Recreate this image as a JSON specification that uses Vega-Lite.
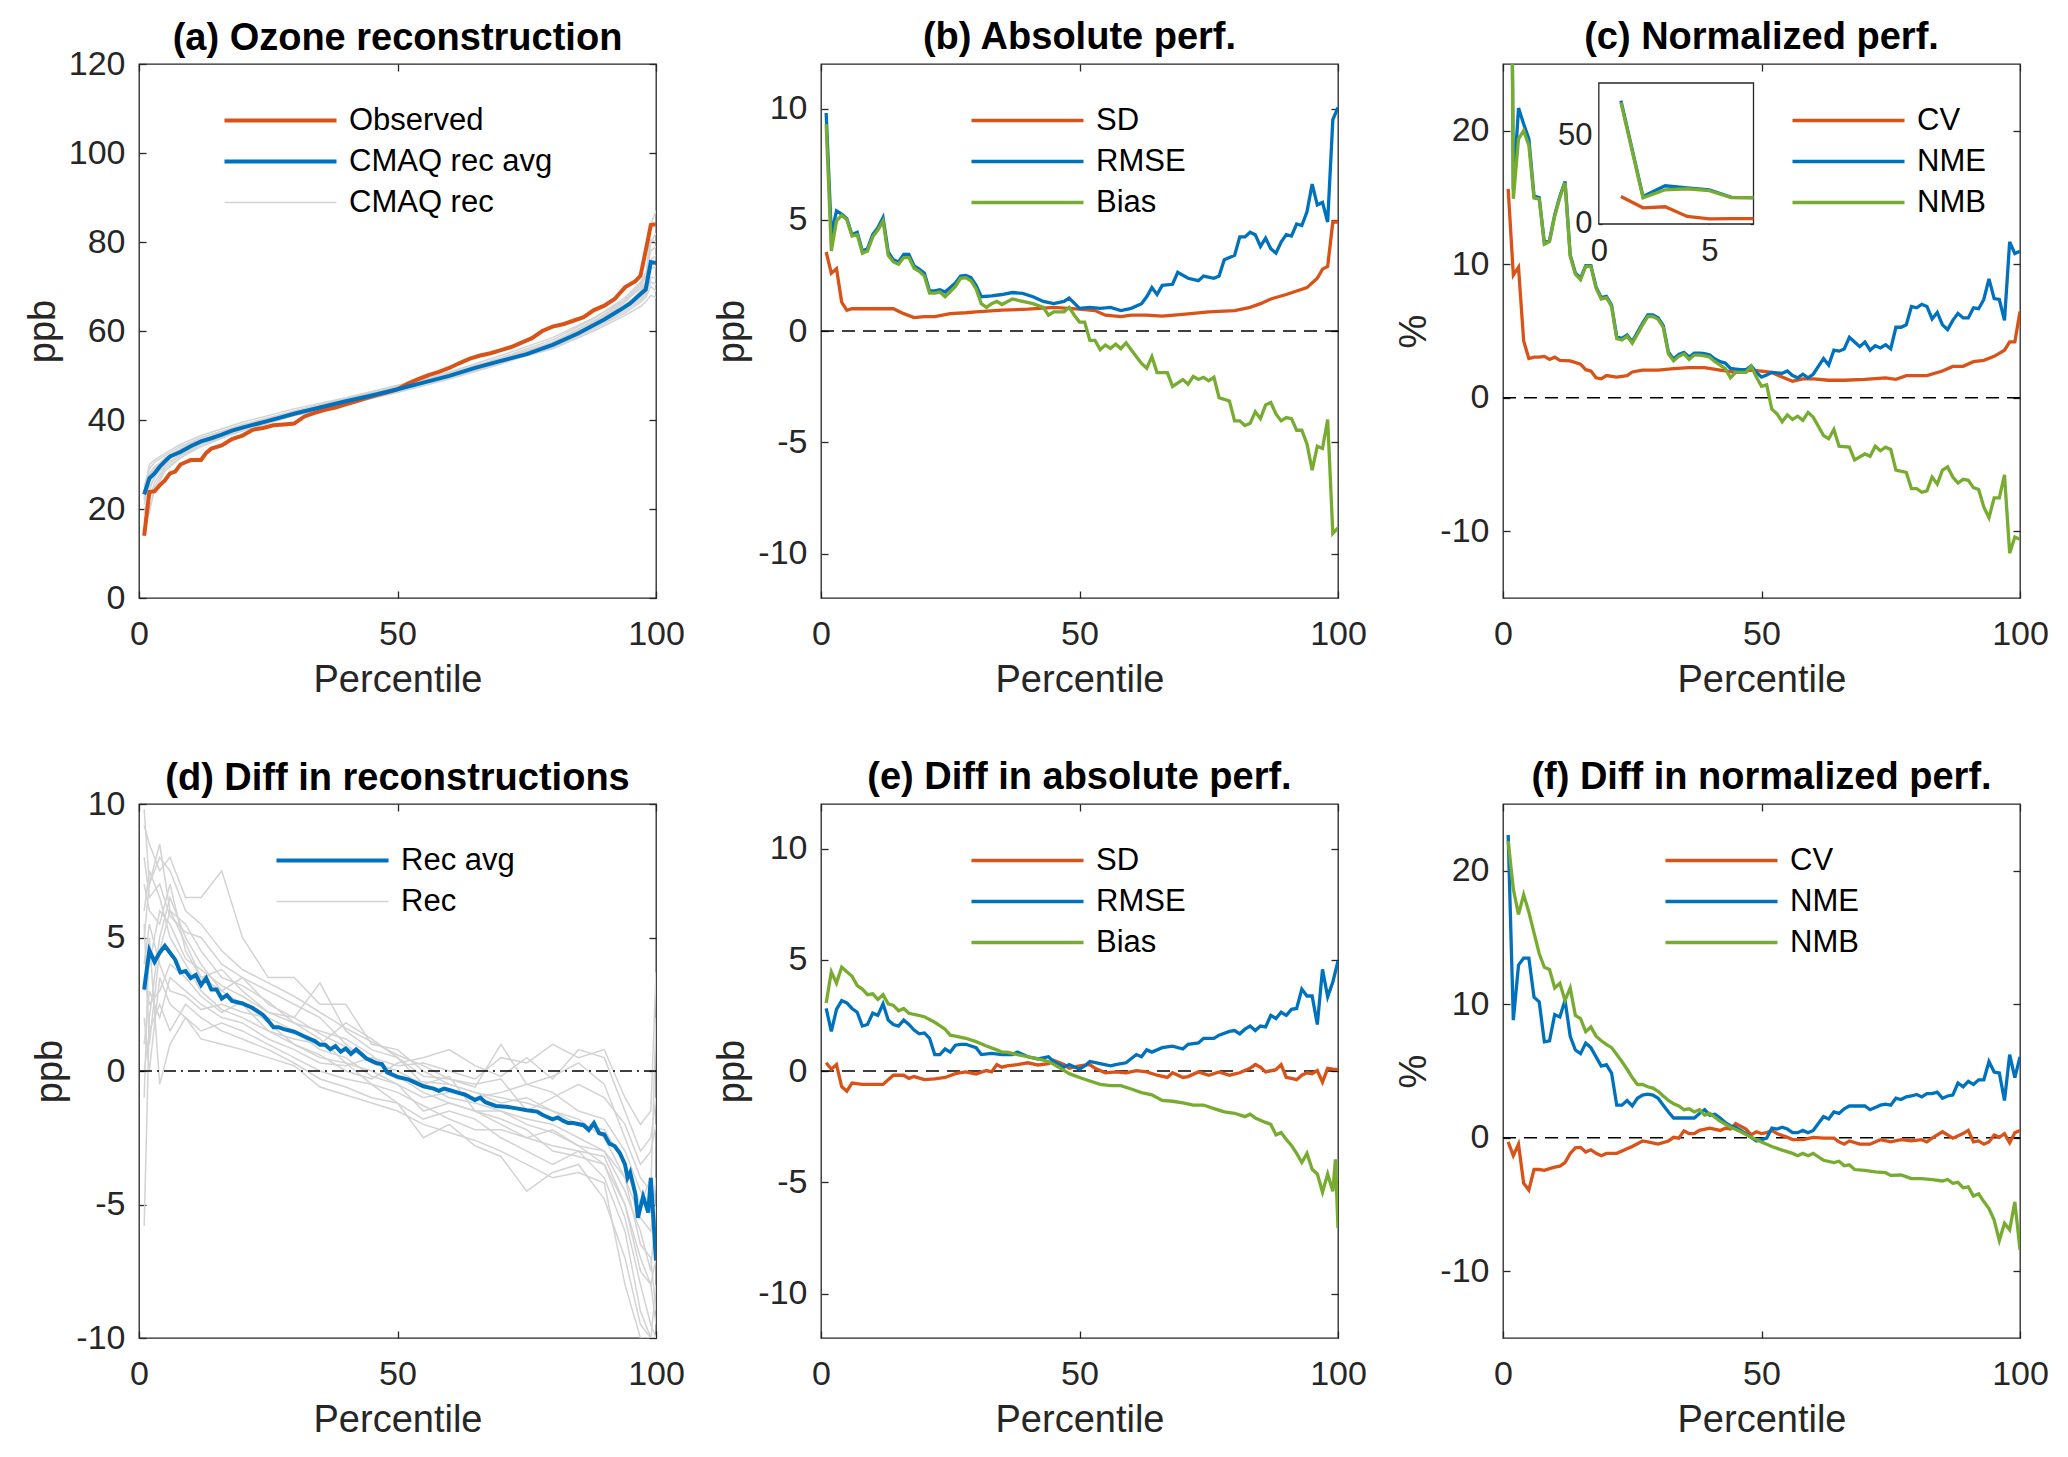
{
"$schema": "https://vega.github.io/schema/vega-lite/v6.json",
"background": "white",
"padding": {"left": 23, "top": 18, "right": 5, "bottom": 5},
"columns": 3,
"spacing": {"row": 206, "column": 165},
"bounds": "flush",
"resolve": {"scale": {"color": "independent"}, "legend": {"color": "independent"}},
"config": {
  "font": "Liberation Sans",
  "view": {"stroke": "#262626", "strokeWidth": 1.3},
  "axis": {"grid": false, "domain": false, "labelFont": "Liberation Sans", "labelFontSize": 34, "labelColor": "#262626", "tickColor": "#262626", "tickWidth": 1.3, "tickSize": -7, "labelFlush": false, "labelOverlap": false, "titleFont": "Liberation Sans", "titleFontSize": 38, "titleFontWeight": "normal", "titleColor": "#262626"},
  "axisX": {"labelPadding": 26.5, "titlePadding": 10},
  "axisY": {"labelPadding": 21, "titlePadding": 6},
  "legend": {"padding": 0, "labelFont": "Liberation Sans", "labelFontSize": 31, "labelColor": "#000000", "labelLimit": 500},
  "title": {"font": "Liberation Sans", "fontSize": 38, "fontWeight": "bold", "color": "#000000", "offset": 6, "anchor": "middle", "frame": "group"}
},
"datasets": {
  "am": [
    {"p":1,"s":"Observed","v":14},{"p":2,"s":"Observed","v":23.8},{"p":3,"s":"Observed","v":24},{"p":4,"s":"Observed","v":25.3},{"p":5,"s":"Observed","v":26.4},{"p":6,"s":"Observed","v":28},{"p":7,"s":"Observed","v":28.4},{"p":8,"s":"Observed","v":30},{"p":9,"s":"Observed","v":30.5},{"p":10,"s":"Observed","v":31},{"p":12,"s":"Observed","v":31},{"p":13,"s":"Observed","v":32.6},{"p":14,"s":"Observed","v":33.6},{"p":16,"s":"Observed","v":34.3},{"p":18,"s":"Observed","v":35.7},{"p":20,"s":"Observed","v":36.5},{"p":22,"s":"Observed","v":37.8},{"p":24,"s":"Observed","v":38.2},{"p":26,"s":"Observed","v":38.8},{"p":28,"s":"Observed","v":39.0},{"p":30,"s":"Observed","v":39.2},{"p":32,"s":"Observed","v":40.8},{"p":34,"s":"Observed","v":41.6},{"p":36,"s":"Observed","v":42.3},{"p":38,"s":"Observed","v":42.8},{"p":40,"s":"Observed","v":43.5},{"p":42,"s":"Observed","v":44.2},{"p":44,"s":"Observed","v":44.9},{"p":46,"s":"Observed","v":45.6},{"p":48,"s":"Observed","v":46.2},{"p":50,"s":"Observed","v":46.9},{"p":52,"s":"Observed","v":48.2},{"p":54,"s":"Observed","v":49.2},{"p":56,"s":"Observed","v":50.1},{"p":58,"s":"Observed","v":50.8},{"p":60,"s":"Observed","v":51.7},{"p":62,"s":"Observed","v":52.8},{"p":64,"s":"Observed","v":53.8},{"p":66,"s":"Observed","v":54.5},{"p":68,"s":"Observed","v":55},{"p":70,"s":"Observed","v":55.7},{"p":72,"s":"Observed","v":56.4},{"p":74,"s":"Observed","v":57.4},{"p":76,"s":"Observed","v":58.4},{"p":78,"s":"Observed","v":60},{"p":80,"s":"Observed","v":61},{"p":82,"s":"Observed","v":61.5},{"p":84,"s":"Observed","v":62.3},{"p":86,"s":"Observed","v":63.1},{"p":88,"s":"Observed","v":64.7},{"p":90,"s":"Observed","v":65.7},{"p":92,"s":"Observed","v":67.2},{"p":94,"s":"Observed","v":69.8},{"p":96,"s":"Observed","v":71.2},{"p":97,"s":"Observed","v":72.4},{"p":98,"s":"Observed","v":78},{"p":99,"s":"Observed","v":83.8},{"p":100,"s":"Observed","v":84},
    {"p":1,"s":"CMAQ rec avg","v":23.3},{"p":2,"s":"CMAQ rec avg","v":26.9},{"p":3,"s":"CMAQ rec avg","v":28},{"p":4,"s":"CMAQ rec avg","v":29.5},{"p":5,"s":"CMAQ rec avg","v":30.7},{"p":6,"s":"CMAQ rec avg","v":31.8},{"p":8,"s":"CMAQ rec avg","v":32.8},{"p":10,"s":"CMAQ rec avg","v":34.1},{"p":12,"s":"CMAQ rec avg","v":35.2},{"p":14,"s":"CMAQ rec avg","v":35.9},{"p":16,"s":"CMAQ rec avg","v":36.7},{"p":18,"s":"CMAQ rec avg","v":37.6},{"p":20,"s":"CMAQ rec avg","v":38.3},{"p":25,"s":"CMAQ rec avg","v":39.8},{"p":30,"s":"CMAQ rec avg","v":41.4},{"p":35,"s":"CMAQ rec avg","v":42.8},{"p":40,"s":"CMAQ rec avg","v":44.2},{"p":45,"s":"CMAQ rec avg","v":45.5},{"p":50,"s":"CMAQ rec avg","v":46.9},{"p":55,"s":"CMAQ rec avg","v":48.4},{"p":60,"s":"CMAQ rec avg","v":49.9},{"p":65,"s":"CMAQ rec avg","v":51.7},{"p":70,"s":"CMAQ rec avg","v":53.3},{"p":75,"s":"CMAQ rec avg","v":54.8},{"p":80,"s":"CMAQ rec avg","v":56.9},{"p":85,"s":"CMAQ rec avg","v":59.5},{"p":90,"s":"CMAQ rec avg","v":62.6},{"p":93,"s":"CMAQ rec avg","v":64.7},{"p":95,"s":"CMAQ rec avg","v":66.2},{"p":97,"s":"CMAQ rec avg","v":68.3},{"p":98,"s":"CMAQ rec avg","v":69.3},{"p":99,"s":"CMAQ rec avg","v":75.5},{"p":100,"s":"CMAQ rec avg","v":75.3}
  ],
  "ar": [
    {"p":1,"g1":24,"g2":20,"g3":18,"g4":22,"g5":23,"g6":14,"g7":25,"g8":21,"g9":19,"g10":22.5},
    {"p":2,"g1":30,"g2":22,"g3":19,"g4":27.5,"g5":25,"g6":20,"g7":29,"g8":26,"g9":24,"g10":28},
    {"p":3,"g1":31,"g2":26,"g3":25,"g4":29,"g5":27,"g6":24,"g7":30.5,"g8":28.5,"g9":27.5,"g10":29.5},
    {"p":5,"g1":32.5,"g2":29.5,"g3":29,"g4":31.5,"g5":30,"g6":28.5,"g7":32,"g8":31,"g9":30.5,"g10":31.2},
    {"p":8,"g1":34.5,"g2":32,"g3":31.5,"g4":33.5,"g5":32.2,"g6":31.5,"g7":34,"g8":33,"g9":33,"g10":33.2},
    {"p":12,"g1":36.5,"g2":34.5,"g3":34,"g4":36,"g5":34.8,"g6":34.5,"g7":36,"g8":35.5,"g9":35.3,"g10":35.5},
    {"p":20,"g1":39.5,"g2":37.5,"g3":37.8,"g4":39,"g5":38,"g6":38,"g7":38.8,"g8":38.5,"g9":38.6,"g10":38.2},
    {"p":30,"g1":42.5,"g2":41,"g3":41.2,"g4":42,"g5":41.5,"g6":41.5,"g7":41.8,"g8":41.6,"g9":42,"g10":41},
    {"p":40,"g1":45,"g2":43.6,"g3":44.2,"g4":44.8,"g5":44.3,"g6":44.5,"g7":44.2,"g8":44,"g9":44.8,"g10":43.5},
    {"p":50,"g1":47.8,"g2":46.5,"g3":47.2,"g4":47.5,"g5":47.2,"g6":47.5,"g7":46.8,"g8":46.8,"g9":47.6,"g10":46.2},
    {"p":60,"g1":50.5,"g2":49.8,"g3":50.3,"g4":50.2,"g5":50.5,"g6":50.8,"g7":49.5,"g8":49.6,"g9":50.4,"g10":49.2},
    {"p":70,"g1":53.5,"g2":53.5,"g3":53.8,"g4":53,"g5":54,"g6":54.5,"g7":52.8,"g8":53,"g9":53.6,"g10":52.6},
    {"p":80,"g1":56.5,"g2":57.5,"g3":57.5,"g4":56.2,"g5":58,"g6":58.5,"g7":56,"g8":57,"g9":57.2,"g10":56.5},
    {"p":88,"g1":60.5,"g2":62,"g3":62.3,"g4":60.5,"g5":62.8,"g6":63,"g7":60,"g8":61.5,"g9":61.8,"g10":61},
    {"p":94,"g1":64,"g2":66.5,"g3":66.8,"g4":64.5,"g5":67.5,"g6":67,"g7":63.5,"g8":65.5,"g9":66,"g10":65},
    {"p":97,"g1":66.5,"g2":70,"g3":69.5,"g4":67,"g5":71,"g6":70.5,"g7":65.5,"g8":69,"g9":68.5,"g10":67.5},
    {"p":98,"g1":67.5,"g2":72,"g3":71,"g4":68,"g5":73,"g6":72.5,"g7":66.5,"g8":70.5,"g9":70,"g10":68.5},
    {"p":99,"g1":70,"g2":80,"g3":84,"g4":72,"g5":78,"g6":76,"g7":68,"g8":74,"g9":80.5,"g10":71},
    {"p":100,"g1":69,"g2":82,"g3":87,"g4":72,"g5":79,"g6":77,"g7":67.5,"g8":74.5,"g9":80,"g10":70.5}
  ],
  "b": [
    {"p":1,"s":"SD","v":3.55},{"p":2,"s":"SD","v":2.6},{"p":3,"s":"SD","v":2.8},{"p":4,"s":"SD","v":1.3},{"p":5,"s":"SD","v":0.93},{"p":6,"s":"SD","v":1.0},{"p":8,"s":"SD","v":1.0},{"p":10,"s":"SD","v":1.0},{"p":12,"s":"SD","v":1.0},{"p":14,"s":"SD","v":1.0},{"p":16,"s":"SD","v":0.78},{"p":18,"s":"SD","v":0.6},{"p":20,"s":"SD","v":0.65},{"p":22,"s":"SD","v":0.65},{"p":25,"s":"SD","v":0.78},{"p":28,"s":"SD","v":0.82},{"p":30,"s":"SD","v":0.86},{"p":35,"s":"SD","v":0.94},{"p":40,"s":"SD","v":0.98},{"p":45,"s":"SD","v":1.06},{"p":50,"s":"SD","v":0.98},{"p":53,"s":"SD","v":0.92},{"p":55,"s":"SD","v":0.71},{"p":58,"s":"SD","v":0.65},{"p":60,"s":"SD","v":0.71},{"p":63,"s":"SD","v":0.71},{"p":66,"s":"SD","v":0.67},{"p":70,"s":"SD","v":0.75},{"p":75,"s":"SD","v":0.86},{"p":80,"s":"SD","v":0.92},{"p":83,"s":"SD","v":1.06},{"p":85,"s":"SD","v":1.23},{"p":87,"s":"SD","v":1.44},{"p":90,"s":"SD","v":1.64},{"p":92,"s":"SD","v":1.8},{"p":94,"s":"SD","v":1.95},{"p":96,"s":"SD","v":2.37},{"p":97,"s":"SD","v":2.78},{"p":98,"s":"SD","v":2.9},{"p":99,"s":"SD","v":4.9},{"p":100,"s":"SD","v":4.9},
    {"p":1,"s":"RMSE","v":9.8},{"p":2,"s":"RMSE","v":4.33},{"p":3,"s":"RMSE","v":5.4},{"p":4,"s":"RMSE","v":5.26},{"p":5,"s":"RMSE","v":5.05},{"p":6,"s":"RMSE","v":4.33},{"p":7,"s":"RMSE","v":4.44},{"p":8,"s":"RMSE","v":3.6},{"p":9,"s":"RMSE","v":3.7},{"p":10,"s":"RMSE","v":4.33},{"p":11,"s":"RMSE","v":4.64},{"p":12,"s":"RMSE","v":5.1},{"p":13,"s":"RMSE","v":3.55},{"p":14,"s":"RMSE","v":3.2},{"p":15,"s":"RMSE","v":3.1},{"p":16,"s":"RMSE","v":3.44},{"p":17,"s":"RMSE","v":3.44},{"p":18,"s":"RMSE","v":2.93},{"p":19,"s":"RMSE","v":2.78},{"p":20,"s":"RMSE","v":2.6},{"p":21,"s":"RMSE","v":1.8},{"p":22,"s":"RMSE","v":1.8},{"p":23,"s":"RMSE","v":1.85},{"p":24,"s":"RMSE","v":1.75},{"p":26,"s":"RMSE","v":2.16},{"p":27,"s":"RMSE","v":2.47},{"p":28,"s":"RMSE","v":2.5},{"p":29,"s":"RMSE","v":2.4},{"p":30,"s":"RMSE","v":2.05},{"p":31,"s":"RMSE","v":1.54},{"p":33,"s":"RMSE","v":1.58},{"p":35,"s":"RMSE","v":1.64},{"p":37,"s":"RMSE","v":1.73},{"p":39,"s":"RMSE","v":1.69},{"p":41,"s":"RMSE","v":1.54},{"p":43,"s":"RMSE","v":1.33},{"p":45,"s":"RMSE","v":1.23},{"p":47,"s":"RMSE","v":1.33},{"p":48,"s":"RMSE","v":1.48},{"p":50,"s":"RMSE","v":1.02},{"p":52,"s":"RMSE","v":1.06},{"p":54,"s":"RMSE","v":1.02},{"p":56,"s":"RMSE","v":1.06},{"p":58,"s":"RMSE","v":0.92},{"p":60,"s":"RMSE","v":1.02},{"p":62,"s":"RMSE","v":1.23},{"p":63,"s":"RMSE","v":1.54},{"p":64,"s":"RMSE","v":1.95},{"p":65,"s":"RMSE","v":1.64},{"p":66,"s":"RMSE","v":2.05},{"p":68,"s":"RMSE","v":2.1},{"p":69,"s":"RMSE","v":2.64},{"p":71,"s":"RMSE","v":2.37},{"p":73,"s":"RMSE","v":2.26},{"p":74,"s":"RMSE","v":2.47},{"p":76,"s":"RMSE","v":2.37},{"p":77,"s":"RMSE","v":2.47},{"p":78,"s":"RMSE","v":3.2},{"p":80,"s":"RMSE","v":3.4},{"p":81,"s":"RMSE","v":4.23},{"p":82,"s":"RMSE","v":4.23},{"p":83,"s":"RMSE","v":4.44},{"p":84,"s":"RMSE","v":4.33},{"p":85,"s":"RMSE","v":3.8},{"p":86,"s":"RMSE","v":4.17},{"p":87,"s":"RMSE","v":3.7},{"p":88,"s":"RMSE","v":3.5},{"p":89,"s":"RMSE","v":4.0},{"p":90,"s":"RMSE","v":4.33},{"p":91,"s":"RMSE","v":4.27},{"p":92,"s":"RMSE","v":4.81},{"p":93,"s":"RMSE","v":4.74},{"p":94,"s":"RMSE","v":5.36},{"p":95,"s":"RMSE","v":6.6},{"p":96,"s":"RMSE","v":5.67},{"p":97,"s":"RMSE","v":5.78},{"p":98,"s":"RMSE","v":4.9},{"p":99,"s":"RMSE","v":9.5},{"p":100,"s":"RMSE","v":10.05},
    {"p":1,"s":"Bias","v":9.3},{"p":2,"s":"Bias","v":3.6},{"p":3,"s":"Bias","v":4.95},{"p":4,"s":"Bias","v":5.2},{"p":5,"s":"Bias","v":5.0},{"p":6,"s":"Bias","v":4.27},{"p":7,"s":"Bias","v":4.33},{"p":8,"s":"Bias","v":3.5},{"p":9,"s":"Bias","v":3.6},{"p":10,"s":"Bias","v":4.23},{"p":11,"s":"Bias","v":4.54},{"p":12,"s":"Bias","v":4.95},{"p":13,"s":"Bias","v":3.4},{"p":14,"s":"Bias","v":3.1},{"p":15,"s":"Bias","v":3.0},{"p":16,"s":"Bias","v":3.3},{"p":17,"s":"Bias","v":3.3},{"p":18,"s":"Bias","v":2.82},{"p":19,"s":"Bias","v":2.68},{"p":20,"s":"Bias","v":2.47},{"p":21,"s":"Bias","v":1.7},{"p":22,"s":"Bias","v":1.7},{"p":23,"s":"Bias","v":1.75},{"p":24,"s":"Bias","v":1.54},{"p":26,"s":"Bias","v":2.0},{"p":27,"s":"Bias","v":2.37},{"p":28,"s":"Bias","v":2.4},{"p":29,"s":"Bias","v":2.26},{"p":30,"s":"Bias","v":1.89},{"p":31,"s":"Bias","v":1.23},{"p":32,"s":"Bias","v":1.06},{"p":33,"s":"Bias","v":1.23},{"p":34,"s":"Bias","v":1.33},{"p":35,"s":"Bias","v":1.19},{"p":37,"s":"Bias","v":1.44},{"p":39,"s":"Bias","v":1.33},{"p":41,"s":"Bias","v":1.23},{"p":43,"s":"Bias","v":1.06},{"p":44,"s":"Bias","v":0.71},{"p":45,"s":"Bias","v":0.86},{"p":47,"s":"Bias","v":0.86},{"p":48,"s":"Bias","v":1.06},{"p":49,"s":"Bias","v":0.71},{"p":50,"s":"Bias","v":0.4},{"p":51,"s":"Bias","v":0.4},{"p":52,"s":"Bias","v":-0.42},{"p":53,"s":"Bias","v":-0.42},{"p":54,"s":"Bias","v":-0.84},{"p":55,"s":"Bias","v":-0.63},{"p":56,"s":"Bias","v":-0.78},{"p":57,"s":"Bias","v":-0.59},{"p":58,"s":"Bias","v":-0.79},{"p":59,"s":"Bias","v":-0.53},{"p":60,"s":"Bias","v":-0.84},{"p":62,"s":"Bias","v":-1.46},{"p":63,"s":"Bias","v":-1.67},{"p":64,"s":"Bias","v":-1.15},{"p":65,"s":"Bias","v":-1.87},{"p":67,"s":"Bias","v":-1.87},{"p":68,"s":"Bias","v":-2.49},{"p":70,"s":"Bias","v":-2.18},{"p":71,"s":"Bias","v":-2.39},{"p":72,"s":"Bias","v":-2.04},{"p":73,"s":"Bias","v":-2.18},{"p":74,"s":"Bias","v":-2.08},{"p":75,"s":"Bias","v":-2.24},{"p":76,"s":"Bias","v":-2.08},{"p":77,"s":"Bias","v":-3.0},{"p":78,"s":"Bias","v":-3.07},{"p":79,"s":"Bias","v":-3.15},{"p":80,"s":"Bias","v":-4.04},{"p":81,"s":"Bias","v":-4.04},{"p":82,"s":"Bias","v":-4.25},{"p":83,"s":"Bias","v":-4.15},{"p":84,"s":"Bias","v":-3.63},{"p":85,"s":"Bias","v":-3.94},{"p":86,"s":"Bias","v":-3.32},{"p":87,"s":"Bias","v":-3.21},{"p":88,"s":"Bias","v":-3.73},{"p":89,"s":"Bias","v":-4.04},{"p":90,"s":"Bias","v":-3.89},{"p":91,"s":"Bias","v":-3.94},{"p":92,"s":"Bias","v":-4.46},{"p":93,"s":"Bias","v":-4.46},{"p":94,"s":"Bias","v":-5.08},{"p":95,"s":"Bias","v":-6.25},{"p":96,"s":"Bias","v":-5.18},{"p":97,"s":"Bias","v":-5.28},{"p":98,"s":"Bias","v":-3.98},{"p":99,"s":"Bias","v":-9.1},{"p":100,"s":"Bias","v":-8.85}
  ],
  "c": [
    {"p":1,"s":"CV","v":15.65},{"p":2,"s":"CV","v":9.19},{"p":3,"s":"CV","v":9.78},{"p":4,"s":"CV","v":4.25},{"p":5,"s":"CV","v":2.94},{"p":6,"s":"CV","v":3.04},{"p":7,"s":"CV","v":3.05},{"p":8,"s":"CV","v":3.1},{"p":9,"s":"CV","v":2.87},{"p":10,"s":"CV","v":3.04},{"p":11,"s":"CV","v":2.8},{"p":13,"s":"CV","v":2.76},{"p":15,"s":"CV","v":2.52},{"p":16,"s":"CV","v":2.1},{"p":17,"s":"CV","v":2.0},{"p":18,"s":"CV","v":1.49},{"p":19,"s":"CV","v":1.42},{"p":20,"s":"CV","v":1.66},{"p":22,"s":"CV","v":1.55},{"p":24,"s":"CV","v":1.66},{"p":25,"s":"CV","v":1.93},{"p":27,"s":"CV","v":2.07},{"p":30,"s":"CV","v":2.07},{"p":33,"s":"CV","v":2.18},{"p":36,"s":"CV","v":2.25},{"p":39,"s":"CV","v":2.25},{"p":42,"s":"CV","v":2.07},{"p":45,"s":"CV","v":1.9},{"p":48,"s":"CV","v":2.07},{"p":50,"s":"CV","v":2.0},{"p":52,"s":"CV","v":1.9},{"p":54,"s":"CV","v":1.55},{"p":56,"s":"CV","v":1.24},{"p":58,"s":"CV","v":1.42},{"p":60,"s":"CV","v":1.42},{"p":63,"s":"CV","v":1.31},{"p":66,"s":"CV","v":1.31},{"p":70,"s":"CV","v":1.38},{"p":74,"s":"CV","v":1.49},{"p":76,"s":"CV","v":1.38},{"p":78,"s":"CV","v":1.66},{"p":82,"s":"CV","v":1.66},{"p":85,"s":"CV","v":2.0},{"p":87,"s":"CV","v":2.35},{"p":89,"s":"CV","v":2.35},{"p":91,"s":"CV","v":2.7},{"p":93,"s":"CV","v":2.8},{"p":95,"s":"CV","v":3.1},{"p":97,"s":"CV","v":3.56},{"p":98,"s":"CV","v":4.18},{"p":99,"s":"CV","v":4.18},{"p":100,"s":"CV","v":6.46},
    {"p":1,"s":"NME","v":70},{"p":2,"s":"NME","v":15.6},{"p":3,"s":"NME","v":21.7},{"p":4,"s":"NME","v":20.5},{"p":5,"s":"NME","v":19.4},{"p":6,"s":"NME","v":15.1},{"p":7,"s":"NME","v":15.0},{"p":8,"s":"NME","v":11.6},{"p":9,"s":"NME","v":11.8},{"p":10,"s":"NME","v":13.7},{"p":11,"s":"NME","v":15.1},{"p":12,"s":"NME","v":16.2},{"p":13,"s":"NME","v":10.7},{"p":14,"s":"NME","v":9.35},{"p":15,"s":"NME","v":8.95},{"p":16,"s":"NME","v":9.9},{"p":17,"s":"NME","v":9.9},{"p":18,"s":"NME","v":8.3},{"p":19,"s":"NME","v":7.5},{"p":20,"s":"NME","v":7.6},{"p":21,"s":"NME","v":6.95},{"p":22,"s":"NME","v":4.55},{"p":23,"s":"NME","v":4.45},{"p":24,"s":"NME","v":4.7},{"p":25,"s":"NME","v":4.2},{"p":26,"s":"NME","v":4.9},{"p":27,"s":"NME","v":5.6},{"p":28,"s":"NME","v":6.2},{"p":29,"s":"NME","v":6.2},{"p":30,"s":"NME","v":6.0},{"p":31,"s":"NME","v":5.4},{"p":32,"s":"NME","v":3.4},{"p":33,"s":"NME","v":2.9},{"p":34,"s":"NME","v":3.25},{"p":35,"s":"NME","v":3.4},{"p":36,"s":"NME","v":3.05},{"p":37,"s":"NME","v":3.35},{"p":38,"s":"NME","v":3.35},{"p":39,"s":"NME","v":3.3},{"p":40,"s":"NME","v":3.2},{"p":41,"s":"NME","v":2.9},{"p":42,"s":"NME","v":2.7},{"p":43,"s":"NME","v":2.6},{"p":44,"s":"NME","v":2.2},{"p":45,"s":"NME","v":2.15},{"p":46,"s":"NME","v":2.1},{"p":47,"s":"NME","v":2.1},{"p":48,"s":"NME","v":2.4},{"p":49,"s":"NME","v":1.9},{"p":50,"s":"NME","v":1.55},{"p":51,"s":"NME","v":1.7},{"p":52,"s":"NME","v":1.9},{"p":54,"s":"NME","v":1.83},{"p":55,"s":"NME","v":2.0},{"p":56,"s":"NME","v":1.66},{"p":57,"s":"NME","v":1.49},{"p":58,"s":"NME","v":1.76},{"p":59,"s":"NME","v":1.49},{"p":60,"s":"NME","v":1.76},{"p":61,"s":"NME","v":2.35},{"p":62,"s":"NME","v":2.94},{"p":63,"s":"NME","v":2.45},{"p":64,"s":"NME","v":3.56},{"p":65,"s":"NME","v":3.49},{"p":66,"s":"NME","v":3.66},{"p":67,"s":"NME","v":4.53},{"p":68,"s":"NME","v":4.18},{"p":69,"s":"NME","v":3.83},{"p":70,"s":"NME","v":4.18},{"p":71,"s":"NME","v":3.56},{"p":72,"s":"NME","v":3.9},{"p":73,"s":"NME","v":3.73},{"p":74,"s":"NME","v":3.97},{"p":75,"s":"NME","v":3.66},{"p":76,"s":"NME","v":5.28},{"p":77,"s":"NME","v":5.28},{"p":78,"s":"NME","v":5.46},{"p":79,"s":"NME","v":6.84},{"p":80,"s":"NME","v":6.74},{"p":81,"s":"NME","v":7.0},{"p":82,"s":"NME","v":6.84},{"p":83,"s":"NME","v":5.9},{"p":84,"s":"NME","v":6.39},{"p":85,"s":"NME","v":5.46},{"p":86,"s":"NME","v":5.11},{"p":87,"s":"NME","v":5.8},{"p":88,"s":"NME","v":6.32},{"p":89,"s":"NME","v":5.98},{"p":90,"s":"NME","v":5.98},{"p":91,"s":"NME","v":6.74},{"p":92,"s":"NME","v":6.67},{"p":93,"s":"NME","v":7.36},{"p":94,"s":"NME","v":8.9},{"p":95,"s":"NME","v":7.43},{"p":96,"s":"NME","v":7.36},{"p":97,"s":"NME","v":5.8},{"p":98,"s":"NME","v":11.68},{"p":99,"s":"NME","v":10.8},{"p":100,"s":"NME","v":10.98},
    {"p":1,"s":"NMB","v":69},{"p":2,"s":"NMB","v":14.9},{"p":3,"s":"NMB","v":19.4},{"p":4,"s":"NMB","v":20.0},{"p":5,"s":"NMB","v":18.9},{"p":6,"s":"NMB","v":14.96},{"p":7,"s":"NMB","v":14.9},{"p":8,"s":"NMB","v":11.5},{"p":9,"s":"NMB","v":11.7},{"p":10,"s":"NMB","v":13.6},{"p":11,"s":"NMB","v":15},{"p":12,"s":"NMB","v":16.1},{"p":13,"s":"NMB","v":10.6},{"p":14,"s":"NMB","v":9.26},{"p":15,"s":"NMB","v":8.84},{"p":16,"s":"NMB","v":9.84},{"p":17,"s":"NMB","v":9.84},{"p":18,"s":"NMB","v":8.2},{"p":19,"s":"NMB","v":7.4},{"p":20,"s":"NMB","v":7.5},{"p":21,"s":"NMB","v":6.84},{"p":22,"s":"NMB","v":4.42},{"p":23,"s":"NMB","v":4.32},{"p":24,"s":"NMB","v":4.6},{"p":25,"s":"NMB","v":4.08},{"p":26,"s":"NMB","v":4.77},{"p":27,"s":"NMB","v":5.46},{"p":28,"s":"NMB","v":6.08},{"p":29,"s":"NMB","v":6.1},{"p":30,"s":"NMB","v":5.87},{"p":31,"s":"NMB","v":5.28},{"p":32,"s":"NMB","v":3.28},{"p":33,"s":"NMB","v":2.76},{"p":34,"s":"NMB","v":3.1},{"p":35,"s":"NMB","v":3.28},{"p":36,"s":"NMB","v":2.87},{"p":37,"s":"NMB","v":3.2},{"p":38,"s":"NMB","v":3.2},{"p":39,"s":"NMB","v":3.14},{"p":40,"s":"NMB","v":3.04},{"p":41,"s":"NMB","v":2.7},{"p":42,"s":"NMB","v":2.45},{"p":43,"s":"NMB","v":2.18},{"p":44,"s":"NMB","v":1.49},{"p":45,"s":"NMB","v":1.9},{"p":46,"s":"NMB","v":1.9},{"p":47,"s":"NMB","v":1.9},{"p":48,"s":"NMB","v":2.35},{"p":49,"s":"NMB","v":1.55},{"p":50,"s":"NMB","v":0.86},{"p":51,"s":"NMB","v":0.97},{"p":52,"s":"NMB","v":-0.86},{"p":53,"s":"NMB","v":-1.2},{"p":54,"s":"NMB","v":-1.8},{"p":55,"s":"NMB","v":-1.28},{"p":56,"s":"NMB","v":-1.62},{"p":57,"s":"NMB","v":-1.38},{"p":58,"s":"NMB","v":-1.69},{"p":59,"s":"NMB","v":-1.1},{"p":60,"s":"NMB","v":-1.45},{"p":62,"s":"NMB","v":-2.83},{"p":63,"s":"NMB","v":-3.07},{"p":64,"s":"NMB","v":-2.38},{"p":65,"s":"NMB","v":-3.63},{"p":67,"s":"NMB","v":-3.7},{"p":68,"s":"NMB","v":-4.66},{"p":70,"s":"NMB","v":-4.21},{"p":71,"s":"NMB","v":-4.39},{"p":72,"s":"NMB","v":-3.63},{"p":73,"s":"NMB","v":-3.97},{"p":74,"s":"NMB","v":-3.7},{"p":75,"s":"NMB","v":-3.87},{"p":76,"s":"NMB","v":-5.42},{"p":78,"s":"NMB","v":-5.6},{"p":79,"s":"NMB","v":-6.8},{"p":80,"s":"NMB","v":-6.8},{"p":81,"s":"NMB","v":-7.08},{"p":82,"s":"NMB","v":-6.98},{"p":83,"s":"NMB","v":-5.94},{"p":84,"s":"NMB","v":-6.46},{"p":85,"s":"NMB","v":-5.42},{"p":86,"s":"NMB","v":-5.18},{"p":87,"s":"NMB","v":-5.94},{"p":88,"s":"NMB","v":-6.39},{"p":89,"s":"NMB","v":-6.11},{"p":90,"s":"NMB","v":-6.18},{"p":91,"s":"NMB","v":-6.73},{"p":92,"s":"NMB","v":-6.87},{"p":93,"s":"NMB","v":-8.18},{"p":94,"s":"NMB","v":-8.98},{"p":95,"s":"NMB","v":-7.5},{"p":96,"s":"NMB","v":-7.5},{"p":97,"s":"NMB","v":-5.77},{"p":98,"s":"NMB","v":-11.64},{"p":99,"s":"NMB","v":-10.43},{"p":100,"s":"NMB","v":-10.6}
  ],
  "dm": [
    {"p":1,"s":"Rec avg","v":3.05},{"p":2,"s":"Rec avg","v":4.52},{"p":3,"s":"Rec avg","v":4.09},{"p":4,"s":"Rec avg","v":4.43},{"p":5,"s":"Rec avg","v":4.69},{"p":6,"s":"Rec avg","v":4.43},{"p":7,"s":"Rec avg","v":4.17},{"p":8,"s":"Rec avg","v":3.69},{"p":9,"s":"Rec avg","v":3.74},{"p":10,"s":"Rec avg","v":3.48},{"p":11,"s":"Rec avg","v":3.6},{"p":12,"s":"Rec avg","v":3.22},{"p":13,"s":"Rec avg","v":3.48},{"p":14,"s":"Rec avg","v":3.05},{"p":15,"s":"Rec avg","v":3.05},{"p":16,"s":"Rec avg","v":2.71},{"p":17,"s":"Rec avg","v":2.84},{"p":18,"s":"Rec avg","v":2.62},{"p":20,"s":"Rec avg","v":2.53},{"p":22,"s":"Rec avg","v":2.36},{"p":24,"s":"Rec avg","v":2.1},{"p":25,"s":"Rec avg","v":1.88},{"p":26,"s":"Rec avg","v":1.64},{"p":27,"s":"Rec avg","v":1.64},{"p":28,"s":"Rec avg","v":1.57},{"p":30,"s":"Rec avg","v":1.47},{"p":32,"s":"Rec avg","v":1.29},{"p":34,"s":"Rec avg","v":1.12},{"p":35,"s":"Rec avg","v":0.98},{"p":36,"s":"Rec avg","v":0.98},{"p":37,"s":"Rec avg","v":0.81},{"p":38,"s":"Rec avg","v":0.93},{"p":39,"s":"Rec avg","v":0.72},{"p":40,"s":"Rec avg","v":0.84},{"p":41,"s":"Rec avg","v":0.64},{"p":42,"s":"Rec avg","v":0.81},{"p":44,"s":"Rec avg","v":0.47},{"p":45,"s":"Rec avg","v":0.38},{"p":46,"s":"Rec avg","v":0.29},{"p":47,"s":"Rec avg","v":0.26},{"p":48,"s":"Rec avg","v":-0.05},{"p":50,"s":"Rec avg","v":-0.22},{"p":52,"s":"Rec avg","v":-0.31},{"p":53,"s":"Rec avg","v":-0.4},{"p":55,"s":"Rec avg","v":-0.57},{"p":57,"s":"Rec avg","v":-0.66},{"p":58,"s":"Rec avg","v":-0.74},{"p":59,"s":"Rec avg","v":-0.66},{"p":60,"s":"Rec avg","v":-0.71},{"p":62,"s":"Rec avg","v":-0.83},{"p":63,"s":"Rec avg","v":-0.88},{"p":65,"s":"Rec avg","v":-1.09},{"p":66,"s":"Rec avg","v":-1.0},{"p":67,"s":"Rec avg","v":-1.17},{"p":69,"s":"Rec avg","v":-1.31},{"p":71,"s":"Rec avg","v":-1.34},{"p":73,"s":"Rec avg","v":-1.4},{"p":75,"s":"Rec avg","v":-1.47},{"p":77,"s":"Rec avg","v":-1.52},{"p":78,"s":"Rec avg","v":-1.64},{"p":80,"s":"Rec avg","v":-1.81},{"p":81,"s":"Rec avg","v":-1.74},{"p":82,"s":"Rec avg","v":-1.86},{"p":83,"s":"Rec avg","v":-1.95},{"p":84,"s":"Rec avg","v":-1.95},{"p":86,"s":"Rec avg","v":-2.03},{"p":87,"s":"Rec avg","v":-2.21},{"p":88,"s":"Rec avg","v":-1.95},{"p":89,"s":"Rec avg","v":-2.33},{"p":90,"s":"Rec avg","v":-2.38},{"p":91,"s":"Rec avg","v":-2.72},{"p":92,"s":"Rec avg","v":-2.81},{"p":93,"s":"Rec avg","v":-3.07},{"p":94,"s":"Rec avg","v":-3.5},{"p":94.5,"s":"Rec avg","v":-4.0},{"p":95,"s":"Rec avg","v":-3.8},{"p":96,"s":"Rec avg","v":-4.6},{"p":96.5,"s":"Rec avg","v":-5.5},{"p":97.5,"s":"Rec avg","v":-4.7},{"p":98.5,"s":"Rec avg","v":-5.3},{"p":99,"s":"Rec avg","v":-4.0},{"p":100,"s":"Rec avg","v":-7.1}
  ],
  "dr": [
    {"p":1,"L1":9.2,"L2":-5.8,"L3":5,"L4":2,"L5":7,"L6":1,"L7":4,"L8":3,"L9":6,"L10":0,"L11":8,"L12":3.5,"L13":9.8,"L14":-1,"L15":5.5},
    {"p":2,"L1":8.5,"L2":2,"L3":7,"L4":0,"L5":6,"L6":3,"L7":5.5,"L8":4,"L9":7.5,"L10":1.5,"L11":6.5,"L12":2.5,"L13":7,"L14":5,"L15":1},
    {"p":4,"L1":7.5,"L2":5,"L3":8.5,"L4":3.5,"L5":5.5,"L6":2,"L7":4,"L8":6,"L9":6.5,"L10":2.5,"L11":7,"L12":3,"L13":8,"L14":-0.5,"L15":4.5},
    {"p":6,"L1":8,"L2":6.5,"L3":6,"L4":2.5,"L5":7,"L6":3.5,"L7":3,"L8":5.5,"L9":5,"L10":1.5,"L11":5.8,"L12":4,"L13":7.5,"L14":1,"L15":6},
    {"p":9,"L1":6.5,"L2":5,"L3":5.5,"L4":2,"L5":4.5,"L6":3,"L7":2.8,"L8":4.2,"L9":4,"L10":2.5,"L11":5.2,"L12":3.5,"L13":6,"L14":2,"L15":4.8},
    {"p":12,"L1":6.5,"L2":4,"L3":4.5,"L4":1.5,"L5":3.5,"L6":2.5,"L7":2.3,"L8":3.8,"L9":3,"L10":2,"L11":5,"L12":2.8,"L13":5.5,"L14":1.2,"L15":3.5},
    {"p":16,"L1":7.5,"L2":3,"L3":3.5,"L4":1.8,"L5":3,"L6":2,"L7":2.5,"L8":3.2,"L9":2.3,"L10":1.5,"L11":4,"L12":2.2,"L13":4.5,"L14":1,"L15":3.8},
    {"p":20,"L1":5,"L2":3.5,"L3":3.2,"L4":1.5,"L5":2.5,"L6":1.8,"L7":2.2,"L8":2.8,"L9":2,"L10":1.2,"L11":3.5,"L12":2.6,"L13":3.8,"L14":0.8,"L15":3},
    {"p":25,"L1":3.5,"L2":2.5,"L3":2.6,"L4":1,"L5":1.5,"L6":1.2,"L7":2,"L8":2.2,"L9":1.5,"L10":0.8,"L11":3,"L12":1.8,"L13":3.3,"L14":0.5,"L15":2.2},
    {"p":30,"L1":3.5,"L2":2,"L3":1.8,"L4":0.5,"L5":1,"L6":0.8,"L7":1.5,"L8":1.8,"L9":1.2,"L10":0.3,"L11":2.5,"L12":1,"L13":2.8,"L14":0.2,"L15":2},
    {"p":35,"L1":2.5,"L2":3.3,"L3":1.2,"L4":0,"L5":0.5,"L6":0.3,"L7":0.8,"L8":1.5,"L9":1,"L10":-0.3,"L11":2,"L12":0.6,"L13":2.2,"L14":-0.6,"L15":1.4},
    {"p":40,"L1":2.5,"L2":1.5,"L3":0.3,"L4":-0.3,"L5":0.3,"L6":0.2,"L7":0.5,"L8":1.2,"L9":1.8,"L10":-0.6,"L11":1,"L12":0,"L13":1.6,"L14":-0.9,"L15":0.9},
    {"p":45,"L1":1,"L2":0.8,"L3":-0.5,"L4":-0.5,"L5":0,"L6":0.5,"L7":-0.2,"L8":0.6,"L9":1.2,"L10":-1,"L11":0.3,"L12":-0.3,"L13":1.1,"L14":-1.2,"L15":0.4},
    {"p":50,"L1":0.8,"L2":0.5,"L3":-1.2,"L4":-0.8,"L5":-0.5,"L6":0.2,"L7":-0.5,"L8":-0.3,"L9":0.5,"L10":-1.2,"L11":0,"L12":0.3,"L13":0.6,"L14":-1.5,"L15":-0.2},
    {"p":55,"L1":0,"L2":-0.5,"L3":-1.8,"L4":-1.3,"L5":-1,"L6":0.3,"L7":-1.5,"L8":-0.4,"L9":-0.2,"L10":-2.5,"L11":-0.5,"L12":0.5,"L13":0.2,"L14":-2,"L15":-0.8},
    {"p":60,"L1":-0.5,"L2":-0.2,"L3":-1.5,"L4":-1.8,"L5":-0.8,"L6":0,"L7":-1.2,"L8":-0.5,"L9":-0.3,"L10":-2,"L11":-1,"L12":0.8,"L13":-0.3,"L14":-2.3,"L15":-1.2},
    {"p":65,"L1":-0.8,"L2":-1.5,"L3":-1.8,"L4":-2.2,"L5":-1,"L6":-0.3,"L7":-1.5,"L8":-0.8,"L9":-0.5,"L10":-2.8,"L11":-1.2,"L12":0.2,"L13":-0.6,"L14":-2.6,"L15":-1.5},
    {"p":70,"L1":-1,"L2":-1.8,"L3":-2.5,"L4":-2.2,"L5":-0.8,"L6":0.5,"L7":-1.5,"L8":-1.2,"L9":-0.3,"L10":-3.2,"L11":-1.5,"L12":-0.2,"L13":1,"L14":-3,"L15":-2},
    {"p":75,"L1":-1.2,"L2":-2.2,"L3":-3,"L4":-2.5,"L5":-0.5,"L6":0.3,"L7":-2,"L8":-1,"L9":-1.5,"L10":-4.5,"L11":-1.8,"L12":0.5,"L13":-0.5,"L14":-3.5,"L15":-2.5},
    {"p":80,"L1":-1.5,"L2":-3,"L3":-3.5,"L4":-2.8,"L5":-0.8,"L6":1,"L7":-2.3,"L8":-1.5,"L9":-1,"L10":-3.8,"L11":-2,"L12":-0.3,"L13":-0.2,"L14":-4,"L15":-2.2},
    {"p":85,"L1":-1.8,"L2":-3.2,"L3":-3,"L4":-3,"L5":-1.5,"L6":0.5,"L7":-2.8,"L8":-2,"L9":-0.5,"L10":-3.5,"L11":-2.5,"L12":0.8,"L13":0.3,"L14":-3.8,"L15":-2.8},
    {"p":90,"L1":-2.5,"L2":-3.5,"L3":-4,"L4":-3.2,"L5":-1.8,"L6":0.8,"L7":-3,"L8":-2.2,"L9":-1,"L10":-4.8,"L11":-3,"L12":0.5,"L13":-0.5,"L14":-4.2,"L15":-3.5},
    {"p":94,"L1":-4,"L2":-5.5,"L3":-6,"L4":-5,"L5":-3,"L6":-1,"L7":-4.5,"L8":-3.5,"L9":-2,"L10":-7,"L11":-4,"L12":-1.5,"L13":-2.5,"L14":-8,"L15":-5},
    {"p":97,"L1":-6.5,"L2":-8,"L3":-9,"L4":-7.5,"L5":-4.5,"L6":-2,"L7":-6,"L8":-5,"L9":-3.5,"L10":-9.5,"L11":-5.5,"L12":-3,"L13":-4,"L14":-10,"L15":-7},
    {"p":99,"L1":-7,"L2":-9.5,"L3":-10,"L4":-8,"L5":-5,"L6":-1.5,"L7":-7.5,"L8":-4,"L9":-3,"L10":-10,"L11":-6,"L12":-2.5,"L13":-4.5,"L14":-10,"L15":-8},
    {"p":100,"L1":-9,"L2":-10,"L3":-8,"L4":-9.5,"L5":-6,"L6":3.7,"L7":-5,"L8":-6.5,"L9":-2,"L10":-10,"L11":-4,"L12":-1,"L13":2,"L14":-10,"L15":-7}
  ],
  "e": [
    {"p":1,"s":"SD","v":0.37},{"p":2,"s":"SD","v":0.08},{"p":3,"s":"SD","v":0.29},{"p":4,"s":"SD","v":-0.7},{"p":5,"s":"SD","v":-0.91},{"p":6,"s":"SD","v":-0.54},{"p":8,"s":"SD","v":-0.6},{"p":10,"s":"SD","v":-0.6},{"p":12,"s":"SD","v":-0.6},{"p":13,"s":"SD","v":-0.39},{"p":14,"s":"SD","v":-0.19},{"p":16,"s":"SD","v":-0.19},{"p":17,"s":"SD","v":-0.33},{"p":18,"s":"SD","v":-0.25},{"p":20,"s":"SD","v":-0.39},{"p":22,"s":"SD","v":-0.35},{"p":24,"s":"SD","v":-0.29},{"p":26,"s":"SD","v":-0.12},{"p":28,"s":"SD","v":-0.04},{"p":30,"s":"SD","v":-0.14},{"p":32,"s":"SD","v":0.02},{"p":33,"s":"SD","v":-0.04},{"p":34,"s":"SD","v":0.29},{"p":35,"s":"SD","v":0.17},{"p":36,"s":"SD","v":0.23},{"p":38,"s":"SD","v":0.29},{"p":40,"s":"SD","v":0.37},{"p":42,"s":"SD","v":0.27},{"p":44,"s":"SD","v":0.33},{"p":45,"s":"SD","v":0.48},{"p":47,"s":"SD","v":0.29},{"p":48,"s":"SD","v":0.12},{"p":50,"s":"SD","v":0.23},{"p":52,"s":"SD","v":0.29},{"p":53,"s":"SD","v":0.12},{"p":55,"s":"SD","v":-0.08},{"p":57,"s":"SD","v":-0.04},{"p":59,"s":"SD","v":-0.08},{"p":61,"s":"SD","v":0.02},{"p":63,"s":"SD","v":-0.04},{"p":65,"s":"SD","v":-0.19},{"p":67,"s":"SD","v":-0.29},{"p":68,"s":"SD","v":-0.08},{"p":70,"s":"SD","v":-0.29},{"p":71,"s":"SD","v":-0.25},{"p":73,"s":"SD","v":-0.04},{"p":75,"s":"SD","v":-0.19},{"p":77,"s":"SD","v":-0.04},{"p":79,"s":"SD","v":-0.19},{"p":81,"s":"SD","v":-0.08},{"p":83,"s":"SD","v":0.12},{"p":84,"s":"SD","v":0.29},{"p":85,"s":"SD","v":0.17},{"p":86,"s":"SD","v":-0.04},{"p":88,"s":"SD","v":0.06},{"p":89,"s":"SD","v":0.29},{"p":90,"s":"SD","v":-0.29},{"p":91,"s":"SD","v":-0.33},{"p":92,"s":"SD","v":-0.39},{"p":93,"s":"SD","v":-0.19},{"p":94,"s":"SD","v":-0.08},{"p":95,"s":"SD","v":-0.12},{"p":96,"s":"SD","v":0.02},{"p":97,"s":"SD","v":-0.5},{"p":98,"s":"SD","v":0.12},{"p":99,"s":"SD","v":0.08},{"p":100,"s":"SD","v":0.06},
    {"p":1,"s":"RMSE","v":2.81},{"p":2,"s":"RMSE","v":1.78},{"p":3,"s":"RMSE","v":2.77},{"p":4,"s":"RMSE","v":3.16},{"p":5,"s":"RMSE","v":3.06},{"p":6,"s":"RMSE","v":2.81},{"p":7,"s":"RMSE","v":2.64},{"p":8,"s":"RMSE","v":2.02},{"p":9,"s":"RMSE","v":2.09},{"p":10,"s":"RMSE","v":2.6},{"p":11,"s":"RMSE","v":2.5},{"p":12,"s":"RMSE","v":3.02},{"p":13,"s":"RMSE","v":2.29},{"p":14,"s":"RMSE","v":2.09},{"p":15,"s":"RMSE","v":2.02},{"p":16,"s":"RMSE","v":2.29},{"p":17,"s":"RMSE","v":2.09},{"p":18,"s":"RMSE","v":1.84},{"p":19,"s":"RMSE","v":1.67},{"p":20,"s":"RMSE","v":1.71},{"p":21,"s":"RMSE","v":1.47},{"p":22,"s":"RMSE","v":0.74},{"p":23,"s":"RMSE","v":0.74},{"p":24,"s":"RMSE","v":0.99},{"p":25,"s":"RMSE","v":0.85},{"p":26,"s":"RMSE","v":1.16},{"p":27,"s":"RMSE","v":1.2},{"p":28,"s":"RMSE","v":1.2},{"p":30,"s":"RMSE","v":1.05},{"p":31,"s":"RMSE","v":0.74},{"p":33,"s":"RMSE","v":0.79},{"p":35,"s":"RMSE","v":0.74},{"p":37,"s":"RMSE","v":0.74},{"p":38,"s":"RMSE","v":0.85},{"p":40,"s":"RMSE","v":0.64},{"p":42,"s":"RMSE","v":0.54},{"p":44,"s":"RMSE","v":0.64},{"p":45,"s":"RMSE","v":0.43},{"p":47,"s":"RMSE","v":0.17},{"p":48,"s":"RMSE","v":0.29},{"p":50,"s":"RMSE","v":0.08},{"p":51,"s":"RMSE","v":0.23},{"p":52,"s":"RMSE","v":0.43},{"p":54,"s":"RMSE","v":0.33},{"p":56,"s":"RMSE","v":0.23},{"p":57,"s":"RMSE","v":0.29},{"p":59,"s":"RMSE","v":0.37},{"p":61,"s":"RMSE","v":0.74},{"p":62,"s":"RMSE","v":0.64},{"p":63,"s":"RMSE","v":0.95},{"p":64,"s":"RMSE","v":0.85},{"p":66,"s":"RMSE","v":1.05},{"p":68,"s":"RMSE","v":1.12},{"p":70,"s":"RMSE","v":0.99},{"p":71,"s":"RMSE","v":1.2},{"p":73,"s":"RMSE","v":1.26},{"p":74,"s":"RMSE","v":1.47},{"p":76,"s":"RMSE","v":1.47},{"p":77,"s":"RMSE","v":1.61},{"p":79,"s":"RMSE","v":1.78},{"p":80,"s":"RMSE","v":1.82},{"p":81,"s":"RMSE","v":1.67},{"p":82,"s":"RMSE","v":1.88},{"p":83,"s":"RMSE","v":2.02},{"p":84,"s":"RMSE","v":1.82},{"p":85,"s":"RMSE","v":2.02},{"p":86,"s":"RMSE","v":1.98},{"p":87,"s":"RMSE","v":2.5},{"p":88,"s":"RMSE","v":2.36},{"p":89,"s":"RMSE","v":2.64},{"p":90,"s":"RMSE","v":2.5},{"p":91,"s":"RMSE","v":2.77},{"p":92,"s":"RMSE","v":2.81},{"p":93,"s":"RMSE","v":3.68},{"p":94,"s":"RMSE","v":3.37},{"p":95,"s":"RMSE","v":3.37},{"p":96,"s":"RMSE","v":2.09},{"p":97,"s":"RMSE","v":4.57},{"p":98,"s":"RMSE","v":3.33},{"p":99,"s":"RMSE","v":4.0},{"p":100,"s":"RMSE","v":4.94},
    {"p":1,"s":"Bias","v":3.06},{"p":2,"s":"Bias","v":4.46},{"p":3,"s":"Bias","v":3.95},{"p":4,"s":"Bias","v":4.67},{"p":5,"s":"Bias","v":4.46},{"p":6,"s":"Bias","v":4.26},{"p":7,"s":"Bias","v":3.84},{"p":8,"s":"Bias","v":3.68},{"p":9,"s":"Bias","v":3.43},{"p":10,"s":"Bias","v":3.47},{"p":11,"s":"Bias","v":3.22},{"p":12,"s":"Bias","v":3.43},{"p":13,"s":"Bias","v":3.02},{"p":14,"s":"Bias","v":2.95},{"p":15,"s":"Bias","v":2.71},{"p":16,"s":"Bias","v":2.81},{"p":17,"s":"Bias","v":2.6},{"p":18,"s":"Bias","v":2.54},{"p":20,"s":"Bias","v":2.44},{"p":22,"s":"Bias","v":2.19},{"p":24,"s":"Bias","v":1.88},{"p":25,"s":"Bias","v":1.61},{"p":26,"s":"Bias","v":1.57},{"p":28,"s":"Bias","v":1.47},{"p":30,"s":"Bias","v":1.32},{"p":32,"s":"Bias","v":1.12},{"p":34,"s":"Bias","v":0.95},{"p":35,"s":"Bias","v":0.85},{"p":36,"s":"Bias","v":0.85},{"p":38,"s":"Bias","v":0.74},{"p":40,"s":"Bias","v":0.64},{"p":42,"s":"Bias","v":0.54},{"p":44,"s":"Bias","v":0.43},{"p":46,"s":"Bias","v":0.17},{"p":48,"s":"Bias","v":-0.12},{"p":50,"s":"Bias","v":-0.29},{"p":52,"s":"Bias","v":-0.45},{"p":54,"s":"Bias","v":-0.6},{"p":56,"s":"Bias","v":-0.66},{"p":58,"s":"Bias","v":-0.66},{"p":60,"s":"Bias","v":-0.81},{"p":62,"s":"Bias","v":-0.97},{"p":64,"s":"Bias","v":-1.07},{"p":66,"s":"Bias","v":-1.32},{"p":68,"s":"Bias","v":-1.36},{"p":70,"s":"Bias","v":-1.43},{"p":72,"s":"Bias","v":-1.53},{"p":74,"s":"Bias","v":-1.53},{"p":76,"s":"Bias","v":-1.69},{"p":78,"s":"Bias","v":-1.84},{"p":80,"s":"Bias","v":-1.9},{"p":82,"s":"Bias","v":-2.05},{"p":83,"s":"Bias","v":-1.94},{"p":84,"s":"Bias","v":-2.11},{"p":86,"s":"Bias","v":-2.31},{"p":87,"s":"Bias","v":-2.4},{"p":88,"s":"Bias","v":-2.87},{"p":89,"s":"Bias","v":-2.77},{"p":90,"s":"Bias","v":-3.08},{"p":91,"s":"Bias","v":-3.35},{"p":92,"s":"Bias","v":-3.7},{"p":93,"s":"Bias","v":-4.11},{"p":94,"s":"Bias","v":-3.7},{"p":95,"s":"Bias","v":-4.42},{"p":96,"s":"Bias","v":-4.63},{"p":97,"s":"Bias","v":-5.45},{"p":98,"s":"Bias","v":-4.63},{"p":99,"s":"Bias","v":-5.41},{"p":99.5,"s":"Bias","v":-3.97},{"p":100,"s":"Bias","v":-7.07}
  ],
  "f": [
    {"p":1,"s":"CV","v":-0.31},{"p":2,"s":"CV","v":-1.34},{"p":3,"s":"CV","v":-0.48},{"p":4,"s":"CV","v":-3.41},{"p":5,"s":"CV","v":-3.92},{"p":6,"s":"CV","v":-2.38},{"p":7,"s":"CV","v":-2.38},{"p":8,"s":"CV","v":-2.44},{"p":9,"s":"CV","v":-2.31},{"p":10,"s":"CV","v":-2.2},{"p":11,"s":"CV","v":-2.13},{"p":12,"s":"CV","v":-1.86},{"p":13,"s":"CV","v":-1.17},{"p":14,"s":"CV","v":-0.76},{"p":15,"s":"CV","v":-0.72},{"p":16,"s":"CV","v":-1.07},{"p":17,"s":"CV","v":-0.9},{"p":18,"s":"CV","v":-1.17},{"p":19,"s":"CV","v":-1.34},{"p":20,"s":"CV","v":-1.17},{"p":22,"s":"CV","v":-1.17},{"p":24,"s":"CV","v":-0.83},{"p":25,"s":"CV","v":-0.65},{"p":27,"s":"CV","v":-0.24},{"p":28,"s":"CV","v":-0.31},{"p":30,"s":"CV","v":-0.48},{"p":32,"s":"CV","v":-0.24},{"p":33,"s":"CV","v":0.03},{"p":34,"s":"CV","v":-0.03},{"p":35,"s":"CV","v":0.52},{"p":36,"s":"CV","v":0.31},{"p":37,"s":"CV","v":0.31},{"p":38,"s":"CV","v":0.55},{"p":40,"s":"CV","v":0.72},{"p":42,"s":"CV","v":0.55},{"p":43,"s":"CV","v":0.72},{"p":44,"s":"CV","v":0.65},{"p":45,"s":"CV","v":1.07},{"p":47,"s":"CV","v":0.65},{"p":48,"s":"CV","v":0.21},{"p":49,"s":"CV","v":0.45},{"p":50,"s":"CV","v":0.31},{"p":51,"s":"CV","v":0.38},{"p":52,"s":"CV","v":0.55},{"p":53,"s":"CV","v":0.31},{"p":55,"s":"CV","v":0.03},{"p":56,"s":"CV","v":-0.14},{"p":58,"s":"CV","v":-0.14},{"p":60,"s":"CV","v":0.03},{"p":62,"s":"CV","v":-0.03},{"p":64,"s":"CV","v":-0.03},{"p":65,"s":"CV","v":-0.31},{"p":66,"s":"CV","v":-0.48},{"p":67,"s":"CV","v":-0.24},{"p":69,"s":"CV","v":-0.48},{"p":71,"s":"CV","v":-0.48},{"p":73,"s":"CV","v":-0.14},{"p":75,"s":"CV","v":-0.31},{"p":77,"s":"CV","v":-0.14},{"p":79,"s":"CV","v":-0.24},{"p":81,"s":"CV","v":-0.14},{"p":82,"s":"CV","v":-0.31},{"p":83,"s":"CV","v":-0.03},{"p":85,"s":"CV","v":0.45},{"p":86,"s":"CV","v":0.21},{"p":87,"s":"CV","v":-0.03},{"p":89,"s":"CV","v":0.31},{"p":90,"s":"CV","v":0.55},{"p":91,"s":"CV","v":-0.31},{"p":92,"s":"CV","v":-0.24},{"p":93,"s":"CV","v":-0.48},{"p":94,"s":"CV","v":-0.31},{"p":95,"s":"CV","v":0.21},{"p":96,"s":"CV","v":0.03},{"p":97,"s":"CV","v":0.31},{"p":98,"s":"CV","v":-0.38},{"p":99,"s":"CV","v":0.38},{"p":100,"s":"CV","v":0.55},
    {"p":1,"s":"NME","v":22.68},{"p":2,"s":"NME","v":8.81},{"p":3,"s":"NME","v":12.94},{"p":4,"s":"NME","v":13.46},{"p":5,"s":"NME","v":13.46},{"p":6,"s":"NME","v":10.53},{"p":7,"s":"NME","v":10.19},{"p":8,"s":"NME","v":7.19},{"p":9,"s":"NME","v":7.26},{"p":10,"s":"NME","v":9.23},{"p":11,"s":"NME","v":9.05},{"p":12,"s":"NME","v":10.3},{"p":13,"s":"NME","v":7.6},{"p":14,"s":"NME","v":6.57},{"p":15,"s":"NME","v":6.3},{"p":16,"s":"NME","v":7.09},{"p":17,"s":"NME","v":6.75},{"p":18,"s":"NME","v":6.06},{"p":19,"s":"NME","v":5.37},{"p":20,"s":"NME","v":5.47},{"p":21,"s":"NME","v":4.85},{"p":22,"s":"NME","v":2.44},{"p":23,"s":"NME","v":2.44},{"p":24,"s":"NME","v":2.79},{"p":25,"s":"NME","v":2.38},{"p":26,"s":"NME","v":2.96},{"p":27,"s":"NME","v":3.2},{"p":28,"s":"NME","v":3.27},{"p":29,"s":"NME","v":3.2},{"p":30,"s":"NME","v":2.96},{"p":31,"s":"NME","v":2.44},{"p":32,"s":"NME","v":1.93},{"p":33,"s":"NME","v":1.48},{"p":35,"s":"NME","v":1.48},{"p":37,"s":"NME","v":1.48},{"p":38,"s":"NME","v":1.82},{"p":39,"s":"NME","v":2.1},{"p":40,"s":"NME","v":1.69},{"p":41,"s":"NME","v":1.76},{"p":42,"s":"NME","v":1.48},{"p":43,"s":"NME","v":1.14},{"p":44,"s":"NME","v":0.9},{"p":45,"s":"NME","v":0.79},{"p":46,"s":"NME","v":0.55},{"p":47,"s":"NME","v":0.31},{"p":48,"s":"NME","v":0.03},{"p":49,"s":"NME","v":-0.24},{"p":50,"s":"NME","v":-0.14},{"p":51,"s":"NME","v":-0.03},{"p":52,"s":"NME","v":0.72},{"p":53,"s":"NME","v":0.65},{"p":54,"s":"NME","v":0.79},{"p":55,"s":"NME","v":0.65},{"p":56,"s":"NME","v":0.38},{"p":57,"s":"NME","v":0.38},{"p":58,"s":"NME","v":0.55},{"p":59,"s":"NME","v":0.38},{"p":60,"s":"NME","v":0.55},{"p":61,"s":"NME","v":1.07},{"p":62,"s":"NME","v":1.58},{"p":63,"s":"NME","v":1.41},{"p":64,"s":"NME","v":1.93},{"p":65,"s":"NME","v":1.82},{"p":66,"s":"NME","v":2.17},{"p":67,"s":"NME","v":2.38},{"p":68,"s":"NME","v":2.38},{"p":70,"s":"NME","v":2.38},{"p":71,"s":"NME","v":2.1},{"p":72,"s":"NME","v":2.27},{"p":73,"s":"NME","v":2.44},{"p":74,"s":"NME","v":2.51},{"p":75,"s":"NME","v":2.44},{"p":76,"s":"NME","v":2.96},{"p":77,"s":"NME","v":2.86},{"p":78,"s":"NME","v":3.06},{"p":79,"s":"NME","v":3.13},{"p":80,"s":"NME","v":3.24},{"p":81,"s":"NME","v":3.06},{"p":82,"s":"NME","v":3.3},{"p":83,"s":"NME","v":3.3},{"p":84,"s":"NME","v":3.41},{"p":85,"s":"NME","v":2.96},{"p":86,"s":"NME","v":3.13},{"p":87,"s":"NME","v":3.2},{"p":88,"s":"NME","v":4.1},{"p":89,"s":"NME","v":3.82},{"p":90,"s":"NME","v":4.23},{"p":91,"s":"NME","v":3.99},{"p":92,"s":"NME","v":4.34},{"p":93,"s":"NME","v":4.34},{"p":94,"s":"NME","v":5.71},{"p":95,"s":"NME","v":4.92},{"p":96,"s":"NME","v":4.85},{"p":97,"s":"NME","v":2.79},{"p":98,"s":"NME","v":6.23},{"p":99,"s":"NME","v":4.51},{"p":100,"s":"NME","v":6.06},
    {"p":1,"s":"NMB","v":22.24},{"p":2,"s":"NMB","v":18.62},{"p":3,"s":"NMB","v":16.73},{"p":4,"s":"NMB","v":18.21},{"p":5,"s":"NMB","v":16.9},{"p":6,"s":"NMB","v":15.35},{"p":7,"s":"NMB","v":13.8},{"p":8,"s":"NMB","v":12.77},{"p":9,"s":"NMB","v":12.6},{"p":10,"s":"NMB","v":11.22},{"p":11,"s":"NMB","v":11.57},{"p":12,"s":"NMB","v":10.29},{"p":13,"s":"NMB","v":11.22},{"p":14,"s":"NMB","v":9.16},{"p":15,"s":"NMB","v":8.92},{"p":16,"s":"NMB","v":7.95},{"p":17,"s":"NMB","v":8.3},{"p":18,"s":"NMB","v":7.61},{"p":19,"s":"NMB","v":7.26},{"p":20,"s":"NMB","v":6.99},{"p":21,"s":"NMB","v":6.75},{"p":22,"s":"NMB","v":6.23},{"p":23,"s":"NMB","v":5.71},{"p":24,"s":"NMB","v":5.13},{"p":25,"s":"NMB","v":4.51},{"p":26,"s":"NMB","v":3.99},{"p":27,"s":"NMB","v":3.99},{"p":28,"s":"NMB","v":3.82},{"p":29,"s":"NMB","v":3.72},{"p":30,"s":"NMB","v":3.48},{"p":31,"s":"NMB","v":3.13},{"p":32,"s":"NMB","v":2.79},{"p":33,"s":"NMB","v":2.55},{"p":34,"s":"NMB","v":2.38},{"p":35,"s":"NMB","v":2.1},{"p":36,"s":"NMB","v":2.17},{"p":37,"s":"NMB","v":1.93},{"p":38,"s":"NMB","v":2.1},{"p":39,"s":"NMB","v":1.69},{"p":40,"s":"NMB","v":1.82},{"p":42,"s":"NMB","v":1.24},{"p":44,"s":"NMB","v":0.79},{"p":46,"s":"NMB","v":0.45},{"p":48,"s":"NMB","v":0.03},{"p":50,"s":"NMB","v":-0.31},{"p":52,"s":"NMB","v":-0.65},{"p":54,"s":"NMB","v":-0.93},{"p":56,"s":"NMB","v":-1.17},{"p":57,"s":"NMB","v":-1.34},{"p":58,"s":"NMB","v":-1.17},{"p":59,"s":"NMB","v":-1.34},{"p":60,"s":"NMB","v":-1.17},{"p":62,"s":"NMB","v":-1.69},{"p":64,"s":"NMB","v":-1.86},{"p":65,"s":"NMB","v":-1.76},{"p":66,"s":"NMB","v":-2.1},{"p":67,"s":"NMB","v":-2.03},{"p":68,"s":"NMB","v":-2.38},{"p":70,"s":"NMB","v":-2.44},{"p":72,"s":"NMB","v":-2.55},{"p":74,"s":"NMB","v":-2.62},{"p":75,"s":"NMB","v":-2.82},{"p":77,"s":"NMB","v":-2.79},{"p":79,"s":"NMB","v":-3.06},{"p":81,"s":"NMB","v":-3.06},{"p":83,"s":"NMB","v":-3.13},{"p":85,"s":"NMB","v":-3.24},{"p":86,"s":"NMB","v":-3.13},{"p":87,"s":"NMB","v":-3.41},{"p":88,"s":"NMB","v":-3.34},{"p":89,"s":"NMB","v":-3.75},{"p":90,"s":"NMB","v":-3.68},{"p":91,"s":"NMB","v":-4.37},{"p":92,"s":"NMB","v":-4.2},{"p":93,"s":"NMB","v":-4.78},{"p":94,"s":"NMB","v":-5.3},{"p":95,"s":"NMB","v":-6.16},{"p":96,"s":"NMB","v":-7.7},{"p":97,"s":"NMB","v":-6.4},{"p":98,"s":"NMB","v":-6.9},{"p":99,"s":"NMB","v":-4.8},{"p":100,"s":"NMB","v":-8.4}
  ]
},
"concat": [
  {
    "title": {"text": "(a) Ozone reconstruction", "offset": -11},
    "width": 517, "height": 534,
    "layer": [
      {
        "data": {"name": "ar"},
        "transform": [{"fold": ["g1","g2","g3","g4","g5","g6","g7","g8","g9","g10"]}],
        "mark": {"type": "line", "clip": true, "strokeWidth": 1.5},
        "encoding": {
          "x": {"field": "p", "type": "quantitative", "scale": {"domain": [0, 100], "nice": false, "zero": false}, "axis": null},
          "y": {"field": "value", "type": "quantitative", "scale": {"domain": [0, 120], "nice": false, "zero": false}, "axis": null},
          "detail": {"field": "key"},
          "color": {"datum": "CMAQ rec", "type": "nominal", "scale": {"domain": ["Observed","CMAQ rec avg","CMAQ rec"], "range": ["#D95319","#0072BD","#D3D3D3"]}, "legend": {"title": null, "orient": "none", "legendX": 86, "legendY": 41, "symbolType": "M-5,0H5", "symbolSize": 502, "symbolOffset": 40, "labelOffset": 53, "rowPadding": 9, "encode": {"symbols": {"update": {"strokeWidth": {"signal": "datum.value === 'CMAQ rec' ? 1.5 : 4"}}}}}}
        }
      },
      {
        "data": {"name": "am"},
        "mark": {"type": "line", "clip": true, "strokeWidth": 4},
        "encoding": {
          "x": {"field": "p", "type": "quantitative", "scale": {"domain": [0, 100], "nice": false, "zero": false}, "axis": {"values": [0, 50, 100], "title": "Percentile"}},
          "y": {"field": "v", "type": "quantitative", "scale": {"domain": [0, 120], "nice": false, "zero": false}, "axis": {"values": [0, 20, 40, 60, 80, 100, 120], "title": "ppb", "labelExpr": "'' + datum.value"}},
          "color": {"field": "s", "type": "nominal", "scale": {"domain": ["Observed","CMAQ rec avg","CMAQ rec"], "range": ["#D95319","#0072BD","#D3D3D3"]}, "legend": {"title": null, "orient": "none", "legendX": 86, "legendY": 41, "symbolType": "M-5,0H5", "symbolSize": 502, "symbolOffset": 40, "labelOffset": 53, "rowPadding": 9, "encode": {"symbols": {"update": {"strokeWidth": {"signal": "datum.value === 'CMAQ rec' ? 1.5 : 4"}}}}}}
        }
      },
      {
        "data": {"values": [{"a": 50, "b": 60}]},
        "mark": {"type": "point", "opacity": 0},
        "encoding": {
          "x": {"field": "a", "type": "quantitative", "scale": {"domain": [0, 100], "nice": false, "zero": false}, "axis": {"orient": "top", "values": [0, 50, 100], "labels": false, "title": null}},
          "y": {"field": "b", "type": "quantitative", "scale": {"domain": [0, 120], "nice": false, "zero": false}, "axis": {"orient": "right", "values": [0, 20, 40, 60, 80, 100, 120], "labels": false, "title": null}}
        }
      }
    ],
    "resolve": {"axis": {"x": "independent", "y": "independent"}}
  },
  {
    "title": {"text": "(b) Absolute perf."},
    "width": 517, "height": 534,
    "layer": [
      {
        "data": {"values": [{"z": 0}]},
        "mark": {"type": "rule", "color": "#000000", "strokeWidth": 1.3, "strokeDash": [13, 8]},
        "encoding": {"y": {"field": "z", "type": "quantitative", "scale": {"domain": [-12, 12], "nice": false, "zero": false}, "axis": null}}
      },
      {
        "data": {"name": "b"},
        "mark": {"type": "line", "clip": true, "strokeWidth": 3.3},
        "encoding": {
          "x": {"field": "p", "type": "quantitative", "scale": {"domain": [0, 100], "nice": false, "zero": false}, "axis": {"values": [0, 50, 100], "title": "Percentile"}},
          "y": {"field": "v", "type": "quantitative", "scale": {"domain": [-12, 12], "nice": false, "zero": false}, "axis": {"values": [-10, -5, 0, 5, 10], "title": "ppb", "labelExpr": "'' + datum.value"}},
          "color": {"field": "s", "type": "nominal", "scale": {"domain": ["SD","RMSE","Bias"], "range": ["#D95319","#0072BD","#77AC30"]}, "legend": {"title": null, "orient": "none", "legendX": 151, "legendY": 41, "symbolType": "M-5,0H5", "symbolSize": 502, "symbolStrokeWidth": 3.3, "symbolOffset": 40, "labelOffset": 53, "rowPadding": 9}}
        }
      },
      {
        "data": {"values": [{"a": 50, "b": 0}]},
        "mark": {"type": "point", "opacity": 0},
        "encoding": {
          "x": {"field": "a", "type": "quantitative", "scale": {"domain": [0, 100], "nice": false, "zero": false}, "axis": {"orient": "top", "values": [0, 50, 100], "labels": false, "title": null}},
          "y": {"field": "b", "type": "quantitative", "scale": {"domain": [-12, 12], "nice": false, "zero": false}, "axis": {"orient": "right", "values": [-10, -5, 0, 5, 10], "labels": false, "title": null}}
        }
      }
    ],
    "resolve": {"axis": {"x": "independent", "y": "independent"}}
  },
  {
    "title": {"text": "(c) Normalized perf."},
    "width": 517, "height": 534,
    "layer": [
      {
        "layer": [
          {
            "data": {"values": [{"z": 0}]},
            "mark": {"type": "rule", "color": "#000000", "strokeWidth": 1.3, "strokeDash": [13, 8]},
            "encoding": {"y": {"field": "z", "type": "quantitative", "scale": {"domain": [-15, 25], "nice": false, "zero": false}, "axis": null}}
          },
          {
            "data": {"name": "c"},
            "mark": {"type": "line", "clip": true, "strokeWidth": 3.3},
            "encoding": {
              "x": {"field": "p", "type": "quantitative", "scale": {"domain": [0, 100], "nice": false, "zero": false}, "axis": {"values": [0, 50, 100], "title": "Percentile"}},
              "y": {"field": "v", "type": "quantitative", "scale": {"domain": [-15, 25], "nice": false, "zero": false}, "axis": {"values": [-10, 0, 10, 20], "title": "%", "labelExpr": "'' + datum.value"}},
              "color": {"field": "s", "type": "nominal", "scale": {"domain": ["CV","NME","NMB"], "range": ["#D95319","#0072BD","#77AC30"]}, "legend": {"title": null, "orient": "none", "legendX": 290, "legendY": 41, "symbolType": "M-5,0H5", "symbolSize": 502, "symbolStrokeWidth": 3.3, "symbolOffset": 40, "labelOffset": 53, "rowPadding": 9}}
            }
          },
          {
            "data": {"values": [{"a": 50, "b": 0}]},
            "mark": {"type": "point", "opacity": 0},
            "encoding": {
              "x": {"field": "a", "type": "quantitative", "scale": {"domain": [0, 100], "nice": false, "zero": false}, "axis": {"orient": "top", "values": [0, 50, 100], "labels": false, "title": null}},
              "y": {"field": "b", "type": "quantitative", "scale": {"domain": [-15, 25], "nice": false, "zero": false}, "axis": {"orient": "right", "values": [-10, 0, 10, 20], "labels": false, "title": null}}
            }
          }
        ],
        "resolve": {"axis": {"x": "independent", "y": "independent"}}
      },
      {
        "layer": [
          {
            "data": {"values": [{"x0": 0, "x1": 7, "y0": 0, "y1": 80}]},
            "mark": {"type": "rect", "fill": "#FFFFFF", "stroke": "#262626", "strokeWidth": 1.3},
            "encoding": {
              "x": {"field": "x0", "type": "quantitative", "scale": {"domain": [-4.336, 19.06], "nice": false, "zero": false}, "axis": {"orient": "bottom", "offset": -374, "values": [0, 5], "title": null, "labelFontSize": 31, "tickSize": -3, "labelPadding": 15}},
              "x2": {"field": "x1"},
              "y": {"field": "y0", "type": "quantitative", "scale": {"domain": [-212.2, 90.78], "nice": false, "zero": false}, "axis": {"orient": "left", "offset": -96, "values": [0, 50], "title": null, "labelFontSize": 31, "tickSize": -3, "labelPadding": 10}},
              "y2": {"field": "y1"}
            }
          },
          {
            "data": {"name": "c"},
            "transform": [{"filter": "datum.p <= 7"}],
            "mark": {"type": "line", "strokeWidth": 3.3},
            "encoding": {
              "x": {"field": "p", "type": "quantitative", "scale": {"domain": [-4.336, 19.06], "nice": false, "zero": false}, "axis": null},
              "y": {"field": "v", "type": "quantitative", "scale": {"domain": [-212.2, 90.78], "nice": false, "zero": false}, "axis": null},
              "color": {"field": "s", "type": "nominal", "scale": {"domain": ["CV","NME","NMB"], "range": ["#D95319","#0072BD","#77AC30"]}, "legend": null}
            }
          },
          {
            "data": {"values": [{"a": 3, "b": 30}]},
            "mark": {"type": "point", "opacity": 0},
            "encoding": {
              "x": {"field": "a", "type": "quantitative", "scale": {"domain": [-4.336, 19.06], "nice": false, "zero": false}, "axis": {"orient": "top", "offset": -19, "values": [0, 5], "labels": false, "title": null, "tickSize": -3}},
              "y": {"field": "b", "type": "quantitative", "scale": {"domain": [-212.2, 90.78], "nice": false, "zero": false}, "axis": {"orient": "right", "offset": -267, "values": [0, 50], "labels": false, "title": null, "tickSize": -3}}
            }
          }
        ],
        "resolve": {"axis": {"x": "independent", "y": "independent"}}
      }
    ],
    "resolve": {"scale": {"x": "independent", "y": "independent"}}
  },
  {
    "title": {"text": "(d) Diff in reconstructions", "offset": -11},
    "width": 517, "height": 534,
    "layer": [
      {
        "data": {"name": "dr"},
        "transform": [{"fold": ["L1","L2","L3","L4","L5","L6","L7","L8","L9","L10","L11","L12","L13","L14","L15"]}],
        "mark": {"type": "line", "clip": true, "strokeWidth": 1.5},
        "encoding": {
          "x": {"field": "p", "type": "quantitative", "scale": {"domain": [0, 100], "nice": false, "zero": false}, "axis": null},
          "y": {"field": "value", "type": "quantitative", "scale": {"domain": [-10, 10], "nice": false, "zero": false}, "axis": null},
          "detail": {"field": "key"},
          "color": {"datum": "Rec", "type": "nominal", "scale": {"domain": ["Rec avg","Rec"], "range": ["#0072BD","#D3D3D3"]}, "legend": {"title": null, "orient": "none", "legendX": 138, "legendY": 41, "symbolType": "M-5,0H5", "symbolSize": 502, "symbolOffset": 40, "labelOffset": 53, "rowPadding": 9, "encode": {"symbols": {"update": {"strokeWidth": {"signal": "datum.value === 'Rec' ? 1.5 : 4"}}}}}}
        }
      },
      {
        "data": {"values": [{"z": 0}]},
        "mark": {"type": "rule", "color": "#000000", "strokeWidth": 1.3, "strokeDash": [12, 5, 2, 5]},
        "encoding": {"y": {"field": "z", "type": "quantitative", "scale": {"domain": [-10, 10], "nice": false, "zero": false}, "axis": null}}
      },
      {
        "data": {"name": "dm"},
        "mark": {"type": "line", "clip": true, "strokeWidth": 4},
        "encoding": {
          "x": {"field": "p", "type": "quantitative", "scale": {"domain": [0, 100], "nice": false, "zero": false}, "axis": {"values": [0, 50, 100], "title": "Percentile"}},
          "y": {"field": "v", "type": "quantitative", "scale": {"domain": [-10, 10], "nice": false, "zero": false}, "axis": {"values": [-10, -5, 0, 5, 10], "title": "ppb", "labelExpr": "'' + datum.value"}},
          "color": {"field": "s", "type": "nominal", "scale": {"domain": ["Rec avg","Rec"], "range": ["#0072BD","#D3D3D3"]}, "legend": {"title": null, "orient": "none", "legendX": 138, "legendY": 41, "symbolType": "M-5,0H5", "symbolSize": 502, "symbolOffset": 40, "labelOffset": 53, "rowPadding": 9, "encode": {"symbols": {"update": {"strokeWidth": {"signal": "datum.value === 'Rec' ? 1.5 : 4"}}}}}}
        }
      },
      {
        "data": {"values": [{"a": 50, "b": 0}]},
        "mark": {"type": "point", "opacity": 0},
        "encoding": {
          "x": {"field": "a", "type": "quantitative", "scale": {"domain": [0, 100], "nice": false, "zero": false}, "axis": {"orient": "top", "values": [0, 50, 100], "labels": false, "title": null}},
          "y": {"field": "b", "type": "quantitative", "scale": {"domain": [-10, 10], "nice": false, "zero": false}, "axis": {"orient": "right", "values": [-10, -5, 0, 5, 10], "labels": false, "title": null}}
        }
      }
    ],
    "resolve": {"axis": {"x": "independent", "y": "independent"}}
  },
  {
    "title": {"text": "(e) Diff in absolute perf."},
    "width": 517, "height": 534,
    "layer": [
      {
        "data": {"values": [{"z": 0}]},
        "mark": {"type": "rule", "color": "#000000", "strokeWidth": 1.3, "strokeDash": [13, 8]},
        "encoding": {"y": {"field": "z", "type": "quantitative", "scale": {"domain": [-12, 12], "nice": false, "zero": false}, "axis": null}}
      },
      {
        "data": {"name": "e"},
        "mark": {"type": "line", "clip": true, "strokeWidth": 3.3},
        "encoding": {
          "x": {"field": "p", "type": "quantitative", "scale": {"domain": [0, 100], "nice": false, "zero": false}, "axis": {"values": [0, 50, 100], "title": "Percentile"}},
          "y": {"field": "v", "type": "quantitative", "scale": {"domain": [-12, 12], "nice": false, "zero": false}, "axis": {"values": [-10, -5, 0, 5, 10], "title": "ppb", "labelExpr": "'' + datum.value"}},
          "color": {"field": "s", "type": "nominal", "scale": {"domain": ["SD","RMSE","Bias"], "range": ["#D95319","#0072BD","#77AC30"]}, "legend": {"title": null, "orient": "none", "legendX": 151, "legendY": 41, "symbolType": "M-5,0H5", "symbolSize": 502, "symbolStrokeWidth": 3.3, "symbolOffset": 40, "labelOffset": 53, "rowPadding": 9}}
        }
      },
      {
        "data": {"values": [{"a": 50, "b": 0}]},
        "mark": {"type": "point", "opacity": 0},
        "encoding": {
          "x": {"field": "a", "type": "quantitative", "scale": {"domain": [0, 100], "nice": false, "zero": false}, "axis": {"orient": "top", "values": [0, 50, 100], "labels": false, "title": null}},
          "y": {"field": "b", "type": "quantitative", "scale": {"domain": [-12, 12], "nice": false, "zero": false}, "axis": {"orient": "right", "values": [-10, -5, 0, 5, 10], "labels": false, "title": null}}
        }
      }
    ],
    "resolve": {"axis": {"x": "independent", "y": "independent"}}
  },
  {
    "title": {"text": "(f) Diff in normalized perf."},
    "width": 517, "height": 534,
    "layer": [
      {
        "data": {"values": [{"z": 0}]},
        "mark": {"type": "rule", "color": "#000000", "strokeWidth": 1.3, "strokeDash": [13, 8]},
        "encoding": {"y": {"field": "z", "type": "quantitative", "scale": {"domain": [-15, 25], "nice": false, "zero": false}, "axis": null}}
      },
      {
        "data": {"name": "f"},
        "mark": {"type": "line", "clip": true, "strokeWidth": 3.3},
        "encoding": {
          "x": {"field": "p", "type": "quantitative", "scale": {"domain": [0, 100], "nice": false, "zero": false}, "axis": {"values": [0, 50, 100], "title": "Percentile"}},
          "y": {"field": "v", "type": "quantitative", "scale": {"domain": [-15, 25], "nice": false, "zero": false}, "axis": {"values": [-10, 0, 10, 20], "title": "%", "labelExpr": "'' + datum.value"}},
          "color": {"field": "s", "type": "nominal", "scale": {"domain": ["CV","NME","NMB"], "range": ["#D95319","#0072BD","#77AC30"]}, "legend": {"title": null, "orient": "none", "legendX": 163, "legendY": 41, "symbolType": "M-5,0H5", "symbolSize": 502, "symbolStrokeWidth": 3.3, "symbolOffset": 40, "labelOffset": 53, "rowPadding": 9}}
        }
      },
      {
        "data": {"values": [{"a": 50, "b": 0}]},
        "mark": {"type": "point", "opacity": 0},
        "encoding": {
          "x": {"field": "a", "type": "quantitative", "scale": {"domain": [0, 100], "nice": false, "zero": false}, "axis": {"orient": "top", "values": [0, 50, 100], "labels": false, "title": null}},
          "y": {"field": "b", "type": "quantitative", "scale": {"domain": [-15, 25], "nice": false, "zero": false}, "axis": {"orient": "right", "values": [-10, 0, 10, 20], "labels": false, "title": null}}
        }
      }
    ],
    "resolve": {"axis": {"x": "independent", "y": "independent"}}
  }
]
}
